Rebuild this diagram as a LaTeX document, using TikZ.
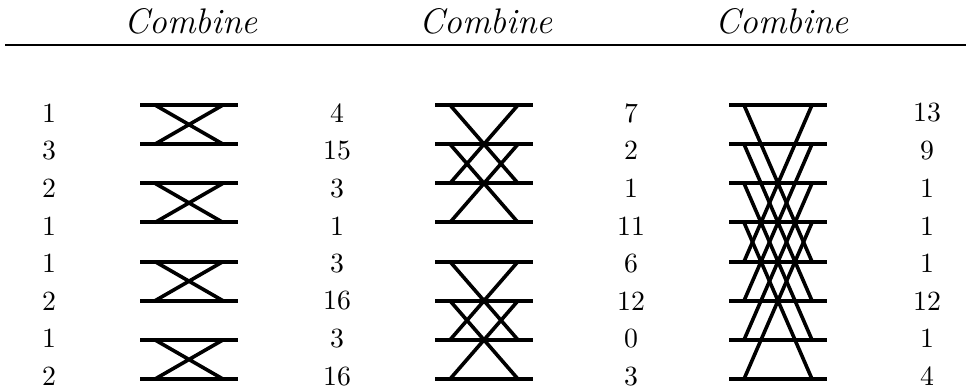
\documentclass[tikz,border=0pt]{standalone}
\usepackage{tikz}

\begin{document}
\begin{tikzpicture}[
  x=0.36pt, y=-0.36pt,
  num/.style={font=\normalsize, inner sep=0pt},
  head/.style={font=\fontsize{12.8}{15}\selectfont\itshape,
    inner sep=0pt, anchor=base},
  wire/.style={line width=1.45pt},
  cross/.style={line width=1.3pt},
  rule/.style={line width=0.7pt}
]
  \useasboundingbox (0,0) rectangle (966,387);

  % headings and rule
  \node[head] (head1) at (191,34) {Combine};
  \node[head] (head2) at (486,34) {Combine};
  \node[head] (head3) at (782,34) {Combine};
  \coordinate (rule-l) at (5,45);
  \coordinate (rule-r) at (966,45);
  \draw[rule] (rule-l) -- (rule-r);

  % value columns
  \foreach \v [count=\i from 0] in {1,3,2,1,1,2,1,2}
    \node[num] (col0-\i) at (49,113+37.6*\i) {\v};
  \foreach \v [count=\i from 0] in {4,15,3,1,3,16,3,16}
    \node[num] (col1-\i) at (337,113+37.6*\i) {\v};
  \foreach \v [count=\i from 0] in {7,2,1,11,6,12,0,3}
    \node[num] (col2-\i) at (631,113+37.6*\i) {\v};
  \foreach \v [count=\i from 0] in {13,9,1,1,1,12,1,4}
    \node[num] (col3-\i) at (927,113+37.6*\i) {\v};

  % wires of each stage
  \foreach \s/\xo in {1/140, 2/435, 3/729}
    \foreach \r in {0,...,7} {
      \coordinate (w\s-\r-l) at (\xo,105+39.15*\r);
      \coordinate (w\s-\r-a) at (\xo+15,105+39.15*\r);
      \coordinate (w\s-\r-b) at (\xo+83,105+39.15*\r);
      \coordinate (w\s-\r-r) at (\xo+98,105+39.15*\r);
      \draw[wire] (w\s-\r-l) -- (w\s-\r-r);
    }

  % butterflies
  \foreach \r in {0,2,4,6} {
    \pgfmathtruncatemacro\j{\r+1}
    \draw[cross] (w1-\r-a) -- (w1-\j-b) (w1-\j-a) -- (w1-\r-b);
  }
  \foreach \r in {0,1,4,5} {
    \pgfmathtruncatemacro\j{\r+2}
    \draw[cross] (w2-\r-a) -- (w2-\j-b) (w2-\j-a) -- (w2-\r-b);
  }
  \foreach \r in {0,1,2,3} {
    \pgfmathtruncatemacro\j{\r+4}
    \draw[cross] (w3-\r-a) -- (w3-\j-b) (w3-\j-a) -- (w3-\r-b);
  }
\end{tikzpicture}
\end{document}
